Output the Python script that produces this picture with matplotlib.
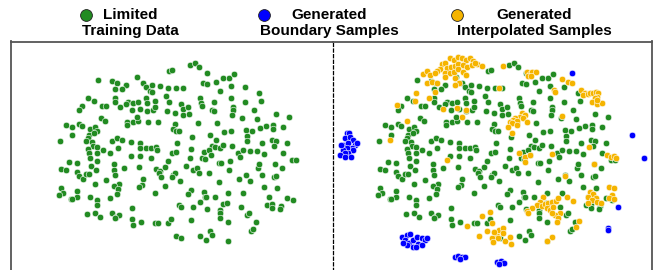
import numpy as np
import matplotlib
matplotlib.use("Agg")
from matplotlib import pyplot as plt
from matplotlib.lines import Line2D

plt.rcParams['font.family'] = ['Liberation Sans', 'DejaVu Sans']

# t-SNE embedding of the limited training data (same points in both panels)
green_x = [570, 585, 598, 622, 508, 515, 670, 686, 702, 410, 293, 337,
           352, 377, 345, 365, 430, 437, 455, 480, 450, 455, 505, 527, 550, 610, 622, 648, 660, 694, 735, 778,
           265, 282, 345, 345, 383, 398, 415, 437, 440, 465, 498, 508, 600, 602, 605, 643, 692, 734, 784,
           245, 238, 307, 317, 360, 378, 395, 420, 440, 460, 466, 500, 525, 542, 550, 565, 548, 568, 636, 642,
           698, 698, 762, 828, 866,
           302, 316, 382, 380, 398, 413, 412, 445, 475, 525, 518, 528, 593, 650, 697, 725, 770, 798, 820, 850,
           198, 216, 238, 245, 270, 286, 290,
           180, 216, 268, 282, 265, 258, 275, 280, 290, 263, 310, 330, 335, 350, 365, 355, 392, 420, 437, 420,
           453, 468, 470, 530, 537, 575, 572, 631, 648, 635, 646, 660, 672, 692, 670, 697, 738, 742, 742, 757,
           780, 818, 786, 816, 828, 822, 860,
           268, 270, 290, 290, 274, 288, 208, 232, 182, 198, 341, 372, 341, 392, 420, 418, 453, 467, 480, 495,
           505, 515, 527, 559, 570, 580, 590, 598, 606, 616, 611, 627, 632, 658, 664, 690, 688, 715, 720, 728,
           750, 772, 773, 776, 793, 825, 845, 848, 876, 888,
           232, 237, 248, 258, 267, 317, 284, 345, 357, 342, 355, 350, 331, 430, 427, 417, 476, 483, 518, 525,
           517, 541, 494, 572, 565, 627, 656, 612, 614, 619, 645, 683, 730, 718, 738, 750, 787, 793, 823, 828,
           830, 182, 188, 177, 232, 231, 212, 217, 270, 465,
           292, 292, 260, 286, 300, 335, 347, 358, 345, 395, 397, 400, 423, 465, 475, 505, 512, 538, 542, 580,
           573, 600, 622, 660, 661, 660, 668, 680, 685, 723, 740, 748, 767, 753, 760, 808, 800, 815, 815, 843,
           840, 860, 880, 528, 542, 600, 617, 630, 635, 683]
green_y = [75, 68, 82, 98, 92, 90, 113, 113, 103, 110, 121, 123,
           130, 136, 147, 147, 128, 140, 135, 137, 152, 155, 145, 145, 145, 130, 133, 126, 152, 138, 141, 160,
           175, 184, 173, 187, 185, 190, 185, 175, 188, 182, 168, 186, 175, 188, 197, 185, 173, 187, 183,
           197, 210, 197, 198, 202, 193, 210, 207, 213, 210, 200, 212, 220, 192, 208, 200, 226, 223, 210, 212,
           200, 210, 210, 222, 230,
           235, 242, 245, 255, 245, 242, 232, 245, 247, 252, 268, 272, 248, 250, 225, 234, 236, 258, 255, 260,
           255, 260, 252, 258, 268, 260, 272,
           303, 286, 285, 280, 295, 303, 305, 318, 322, 328, 330, 340, 303, 295, 300, 323, 305, 310, 324, 324,
           325, 320, 330, 308, 272, 290, 328, 284, 300, 318, 320, 323, 275, 273, 315, 318, 270, 288, 303, 273,
           265, 268, 310, 300, 302, 318, 308,
           340, 355, 340, 362, 378, 390, 365, 368, 388, 390, 372, 385, 390, 348, 348, 382, 355, 388, 392, 380,
           364, 338, 337, 378, 355, 390, 385, 398, 354, 358, 337, 330, 345, 368, 368, 362, 390, 340, 351, 330,
           332, 333, 385, 372, 343, 372, 385, 340, 360, 360,
           397, 408, 417, 403, 403, 420, 432, 406, 433, 438, 447, 462, 475, 418, 434, 440, 400, 410, 405, 400,
           412, 423, 437, 450, 463, 400, 427, 456, 470, 470, 470, 460, 458, 416, 405, 423, 405, 440, 410, 408,
           443, 443, 458, 466, 452, 470, 477, 478, 470, 460,
           481, 495, 521, 520, 532, 520, 530, 524, 533, 505, 537, 555, 545, 548, 548, 550, 537, 495, 500, 502,
           540, 485, 507, 510, 520, 533, 492, 488, 547, 502, 525, 520, 545, 572, 566, 470, 495, 493, 503, 498,
           507, 473, 480, 587, 594, 588, 600, 572, 584, 603]

# generated interpolated samples (right panel)
interp_x = [350, 360, 375, 387, 400, 410, 423, 435, 445, 455, 470, 345, 365, 377, 390, 400, 413, 425, 440, 450,
            360, 375, 387, 400, 415, 335, 360, 390, 423, 403, 390,
            293, 305, 315, 331, 307, 320, 335, 273, 271, 313, 329, 215, 355, 395, 423, 411, 245, 195, 365,
            535, 605, 615, 610, 620, 632, 617, 710, 728, 741, 687, 690, 523, 767, 780, 775, 790, 795, 805, 813,
            820, 815, 810, 800, 815, 830, 817,
            590, 600, 585, 595, 570, 565, 575, 555, 560, 550, 575, 607, 560, 710, 793,
            583, 600, 600, 615, 681, 808, 845, 858, 867, 873, 720,
            655, 645, 635, 650, 660, 670, 680, 693, 698, 665, 675, 683, 705, 690, 700, 695, 680, 620, 605, 610,
            727, 743,
            795, 805, 790, 813, 800, 790, 815, 828, 853, 867, 860, 853, 867, 763, 753,
            495, 500, 510, 523, 535, 533, 515, 500, 520, 540, 555, 558, 505, 680, 667, 425, 471, 485, 462, 507]
interp_y = [72, 68, 55, 60, 50, 55, 60, 55, 62, 72, 78, 88, 85, 80, 78, 72, 75, 80, 75, 70,
            100, 100, 95, 88, 95, 92, 112, 113, 105, 128, 135,
            102, 92, 105, 100, 128, 125, 130, 158, 182, 173, 155, 194, 208, 203, 210, 231, 243, 300, 360,
            77, 97, 102, 107, 97, 97, 108, 118, 125, 130, 150, 155, 145, 150, 160, 165, 162, 158, 160, 155,
            160, 170, 175, 185, 192, 190, 180,
            220, 225, 230, 235, 235, 240, 242, 245, 250, 262, 255, 245, 280, 228, 320,
            338, 350, 365, 345, 343, 372, 345, 352, 348, 355, 407,
            470, 485, 495, 498, 492, 490, 485, 482, 475, 505, 510, 500, 518, 525, 535, 545, 520, 505, 512, 520,
            472, 482,
            455, 462, 470, 475, 480, 490, 485, 490, 440, 445, 465, 475, 478, 542, 560,
            517, 550, 575, 570, 565, 580, 588, 595, 595, 602, 592, 612, 605, 592, 602, 558, 528, 572, 588, 576]

# generated boundary samples (right panel)
boundary_x = [65, 73, 60, 75, 85, 55, 70, 90, 80, 65, 53, 85, 70, 60, 45, 60, 78, 95, 48,
              230, 245, 255, 240, 253, 265, 277, 290, 300, 280, 265, 245, 235, 305, 290, 273,
              390, 400, 410, 420, 405,
              515, 527, 537, 522,
              740, 920, 957, 878, 850, 850]
boundary_y = [280, 278, 295, 292, 300, 315, 310, 315, 325, 325, 330, 330, 340, 340, 345, 352, 350, 310, 315,
              592, 585, 582, 600, 610, 600, 592, 595, 600, 612, 620, 615, 610, 595, 615, 622,
              650, 648, 652, 650, 656,
              665, 662, 670, 672,
              98, 285, 353, 500, 563, 570]

labels = ['Limited\nTraining Data', 'Generated\nBoundary Samples', 'Generated\nInterpolated Samples']
colors = ['#228b22', '#0000ff', '#f5b400']

green_x = np.array(green_x)
green_y = np.array(green_y)

W, H = 655, 270
fig = plt.figure(figsize=(W / 100, H / 100), dpi=100)

top = 1 - 41.5 / H
bot = -2 / H
ax1 = fig.add_axes([11 / W, bot, (333 - 11) / W, top - bot])
ax2 = fig.add_axes([333 / W, bot, (652 - 333) / W, top - bot])

pt = dict(s=22, edgecolors='white', linewidths=0.4)

ax1.scatter(green_x, green_y, color=colors[0], **pt)
ax1.set_xlim(33, 999)
ax1.set_ylim(696, 5)

# right panel: same training points, embedding shifted slightly
ax2.scatter(green_x - 18, green_y, color=colors[0], **pt)
ax2.scatter(interp_x, interp_y, color=colors[2], **pt)
ax2.scatter(boundary_x, boundary_y, color=colors[1], **pt)
ax2.set_xlim(24, 981)
ax2.set_ylim(696, 5)

for ax in (ax1, ax2):
    ax.set_xticks([])
    ax.set_yticks([])
    ax.spines['bottom'].set_visible(False)
    for s in ax.spines.values():
        s.set_color('#555555')
        s.set_linewidth(1.3)
ax1.spines['right'].set_visible(False)
ax2.spines['left'].set_color('black')
ax2.spines['left'].set_linewidth(0.9)
ax2.spines['left'].set_linestyle((0, (2.5, 2)))

# legend drawn at the top
marker_px = [86, 264, 457]
text_px = [130, 329, 534]
for lab, c, mx, tx in zip(labels, colors, marker_px, text_px):
    fig.add_artist(Line2D([mx / W], [1 - 14.5 / H], marker='o', markersize=8.5,
                          color=c, markeredgecolor='#222222', markeredgewidth=0.6,
                          linestyle='none', transform=fig.transFigure))
    fig.text(tx / W, 1 - 8 / H, lab, ha='center', va='top', multialignment='center',
             fontsize=11, fontweight='bold')

fig.savefig('out.png', dpi=100)
